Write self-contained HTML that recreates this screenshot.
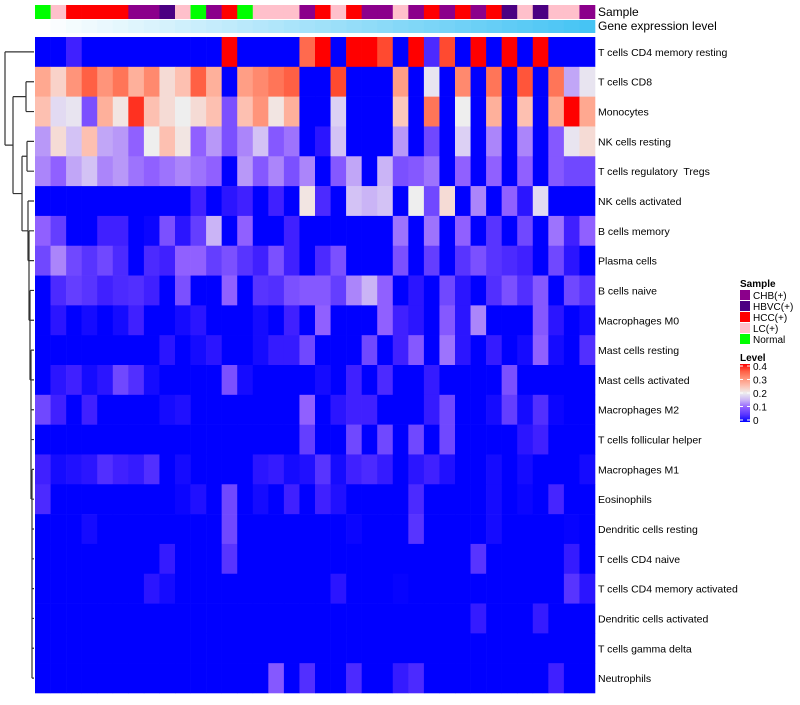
<!DOCTYPE html>
<html><head><meta charset="utf-8"><style>
body{margin:0;background:#fff;width:800px;height:700px;overflow:hidden;font-family:"Liberation Sans",sans-serif}
svg text{white-space:pre}
</style></head><body>
<svg id="chart" width="800" height="700" xmlns="http://www.w3.org/2000/svg" font-family="Liberation Sans, sans-serif"></svg>
<script>
const rowLabels=["T cells CD4 memory resting","T cells CD8","Monocytes","NK cells resting","T cells regulatory  Tregs","NK cells activated","B cells memory","Plasma cells","B cells naive","Macrophages M0","Mast cells resting","Mast cells activated","Macrophages M2","T cells follicular helper","Macrophages M1","Eosinophils","Dendritic cells resting","T cells CD4 naive","T cells CD4 memory activated","Dendritic cells activated","T cells gamma delta","Neutrophils"];
const sampleGroups=["Normal","LC(+)","HCC(+)","HCC(+)","HCC(+)","HCC(+)","CHB(+)","CHB(+)","HBVC(+)","LC(+)","Normal","CHB(+)","HCC(+)","Normal","LC(+)","LC(+)","LC(+)","CHB(+)","HCC(+)","LC(+)","HCC(+)","CHB(+)","CHB(+)","LC(+)","CHB(+)","HCC(+)","CHB(+)","HCC(+)","CHB(+)","HCC(+)","HBVC(+)","LC(+)","HBVC(+)","LC(+)","LC(+)","CHB(+)"];
const legendGroups=["CHB(+)","HBVC(+)","HCC(+)","LC(+)","Normal"];
const levelTicks=[0,0.1,0.2,0.3,0.4];
const v0=[0,0,0.03,0,0,0,0,0,0,0,0,0,0.4,0,0,0,0,0.34,0.4,0,0.4,0.4,0.37,0,0.4,0.04,0.37,0,0.4,0,0.4,0,0.4,0,0,0];
const v1=[0.28,0.23,0.3,0.35,0.3,0.33,0.27,0.31,0.22,0.25,0.35,0.27,0,0.29,0.31,0.33,0.35,0,0,0.37,0,0,0,0.29,0,0.19,0,0.31,0,0.33,0,0.36,0,0.33,0.14,0.19];
const v2=[0.25,0.18,0.19,0.08,0.27,0.21,0.38,0.25,0.22,0.2,0.22,0.25,0.08,0.25,0.3,0.21,0.27,0,0,0.17,0,0,0,0.24,0,0.33,0,0.2,0,0.27,0,0.25,0,0.28,0.4,0.28];
const v3=[0.13,0.22,0.16,0.25,0.14,0.13,0.1,0.2,0.25,0.21,0.1,0.13,0.08,0.12,0.16,0.09,0.11,0,0.02,0.16,0,0,0,0.13,0,0.07,0,0.17,0,0.12,0,0.12,0,0.09,0.19,0.22];
const v4=[0.12,0.1,0.14,0.16,0.12,0.13,0.11,0.1,0.11,0.12,0.11,0.1,0,0.13,0.09,0.12,0.08,0.12,0,0.09,0.14,0,0.15,0.08,0.09,0.11,0,0.1,0,0.1,0,0.1,0,0.09,0.07,0.07];
const v5=[0,0,0,0,0,0,0,0,0,0,0.03,0,0.02,0.03,0,0.03,0,0.21,0.04,0,0.16,0.15,0.16,0,0.2,0.07,0.22,0,0.12,0,0.1,0.02,0.18,0,0,0];
const v6=[0.1,0.06,0,0,0.03,0.03,0,0.005,0.08,0.02,0.06,0.15,0,0.1,0,0,0.03,0,0,0,0,0,0,0.11,0,0.11,0,0.1,0,0.05,0,0.07,0,0.11,0.03,0.1];
const v7=[0.07,0.12,0.07,0.05,0.07,0.04,0,0.04,0.03,0.1,0.1,0.06,0.08,0.05,0.03,0.08,0.03,0,0.04,0.08,0,0,0,0.08,0,0.06,0,0.05,0.08,0.05,0.04,0.03,0,0.07,0.02,0];
const v8=[0,0.04,0.06,0.05,0.03,0.04,0.045,0.03,0,0.08,0,0,0.1,0,0.05,0.045,0.08,0.09,0.09,0.06,0.12,0.15,0.1,0,0.02,0,0.07,0.02,0,0.045,0.08,0.045,0.09,0,0.07,0.05];
const v9=[0,0.02,0,0.01,0,0.01,0.03,0,0,0.01,0.02,0,0,0,0.01,0,0.03,0,0.1,0,0,0,0.1,0.03,0.02,0,0.09,0.02,0.12,0,0,0,0.09,0.02,0,0.01];
const v10=[0,0,0,0,0,0,0,0,0.02,0,0.01,0.02,0,0,0.01,0.025,0.025,0.07,0,0,0,0.07,0,0.03,0.09,0,0.11,0.02,0,0.025,0,0.01,0.1,0.01,0,0.045];
const v11=[0,0.02,0.03,0.01,0.02,0.07,0.045,0.01,0,0,0,0,0.08,0.01,0,0,0,0,0.01,0,0.03,0,0.04,0,0,0.025,0,0,0,0,0.08,0,0,0,0,0];
const v12=[0.07,0.03,0,0.03,0,0,0,0,0.01,0.015,0,0,0,0,0,0,0,0.1,0,0.02,0.03,0.03,0,0,0,0.025,0.07,0,0,0.01,0.06,0.01,0.045,0.005,0,0];
const v13=[0,0,0,0,0,0,0,0,0,0,0,0,0,0,0,0,0,0.06,0,0,0.07,0,0.07,0,0.07,0,0.07,0,0,0,0,0.02,0.03,0,0,0];
const v14=[0.03,0.01,0.015,0.02,0.045,0.03,0.025,0.045,0,0.01,0,0,0,0,0.02,0.025,0.01,0.015,0.05,0.01,0.03,0.04,0.025,0,0.02,0.03,0.015,0,0,0.01,0,0.01,0,0,0,0.01];
const v15=[0.04,0,0,0,0,0,0,0,0,0.005,0.015,0,0.07,0,0.01,0,0.03,0,0.03,0.015,0,0,0,0,0.04,0,0,0,0,0.01,0,0.005,0,0.035,0,0];
const v16=[0,0,0,0.01,0,0,0,0,0,0,0,0,0.07,0,0,0,0,0,0,0,0.005,0,0,0,0.05,0,0,0,0,0.01,0,0,0,0,0.003,0];
const v17=[0,0,0,0,0,0,0,0,0.025,0,0,0,0.05,0,0,0,0,0,0,0,0,0,0,0,0,0,0,0,0.05,0,0,0,0,0,0.025,0];
const v18=[0,0,0,0,0,0,0,0.02,0.01,0,0,0,0,0,0,0,0,0,0,0.02,0,0,0,0.003,0,0,0,0,0,0,0,0,0,0,0.05,0.02];
const v19=[0,0,0,0,0,0,0,0,0,0,0,0,0,0,0,0,0,0,0,0,0,0,0,0,0,0,0,0,0.025,0,0,0,0.025,0,0,0];
const v20=[0,0,0,0,0,0,0,0,0,0,0,0,0,0,0,0,0,0,0,0,0,0,0,0,0,0,0,0,0,0,0,0,0,0,0,0];
const v21=[0,0,0,0,0,0,0,0,0,0,0,0,0,0,0,0.09,0,0.045,0,0,0.04,0,0,0.025,0.04,0,0,0,0,0,0,0,0,0.03,0,0];
const values=[v0,v1,v2,v3,v4,v5,v6,v7,v8,v9,v10,v11,v12,v13,v14,v15,v16,v17,v18,v19,v20,v21];

const NS="http://www.w3.org/2000/svg";
const svg=document.getElementById('chart');
function mk(tag,attrs,parent){const e=document.createElementNS(NS,tag);for(const k in attrs)e.setAttribute(k,attrs[k]);(parent||svg).appendChild(e);return e;}
const X0=35,X1=595,Y0=37,Y1=693;
const nCol=values[0].length,nRow=values.length;
const cw=(X1-X0)/nCol,rh=(Y1-Y0)/nRow;
const xScale=i=>X0+i*cw;
const yScale=r=>Y0+r*rh;
const groupColor={"CHB(+)":"#8B008B","HBVC(+)":"#4B0082","HCC(+)":"#FF0000","LC(+)":"#FFC0CB","Normal":"#00FF00"};
const stops=[[0,[0,0,255]],[0.03,[64,32,255]],[0.07,[112,72,255]],[0.1,[144,96,255]],[0.13,[184,152,248]],[0.17,[220,208,244]],[0.2,[238,238,238]],[0.24,[252,200,188]],[0.28,[255,168,144]],[0.33,[255,117,88]],[0.37,[255,74,48]],[0.4,[255,0,0]]];
function colorOf(v){v=Math.max(0,Math.min(0.4,v));for(let i=1;i<stops.length;i++){if(v<=stops[i][0]){const a=stops[i-1],b=stops[i];const t=(v-a[0])/(b[0]-a[0]);const c=a[1].map((x,k)=>Math.round(x+(b[1][k]-x)*t));return `rgb(${c[0]},${c[1]},${c[2]})`;}}return 'rgb(255,0,0)';}

const gS=mk('g',{});


sampleGroups.forEach((g,i)=>{const r=mk('rect',{x:xScale(i),y:5,width:cw+0.3,height:14,fill:groupColor[g]},gS);

});
const gG=mk('g',{});


for(let i=0;i<nCol;i++){const t=i/(nCol-1);const c=[255+(70-255)*t,255+(196-255)*t,255+(244-255)*t].map(Math.round);
const r=mk('rect',{x:xScale(i),y:20,width:cw+0.3,height:13,fill:`rgb(${c})`},gG);

}
const t1=mk('text',{x:598,y:16,'font-size':12,fill:'#000'});t1.textContent='Sample';


const t2=mk('text',{x:598,y:30,'font-size':12,fill:'#000'});t2.textContent='Gene expression level';



const gH=mk('g',{});


values.forEach((row,r)=>row.forEach((v,c)=>{const e=mk('rect',{x:xScale(c),y:yScale(r),width:cw+0.3,height:rh+0.3,fill:colorOf(v)},gH);

}));
rowLabels.forEach((l,r)=>{const e=mk('text',{x:598,y:yScale(r)+rh/2+4,'font-size':10.5,fill:'#000','xml:space':'preserve'});e.textContent=l;

});

const yc=r=>yScale(r)+rh/2;
const d=[];
function seg(x1,y1,x2,y2){d.push(`M${x1},${y1}L${x2},${y2}`);}
function node(x,ya,xa,yb,xb){seg(xa,ya,x,ya);seg(x,ya,x,yb);seg(x,yb,xb,yb);}
node(26,yc(1),34,yc(2),34);
node(27,yc(3),34,yc(4),34);
const chain=[[30,5],[31,6],[31,7],[32,8],[32,9],[33,10],[33,11],[33,12],[33,13],[34,14],[34,15],[34,16],[34,17],[34,18],[34,19],[34,20]];
let prevY=yc(21),prevX=34;
for(let i=chain.length-1;i>=0;i--){const [x,r]=chain[i];node(x-2,yc(r),34,prevY,prevX);prevY=(yc(r)+prevY)/2;prevX=x-2;}
node(22,yc(3.5),27,prevY,prevX);
const mid22=(yc(3.5)+prevY)/2;
node(13,yc(1.5),26,mid22,22);
node(5,yc(0),34,(yc(1.5)+mid22)/2,13);
const dp=mk('path',{d:d.join(''),stroke:'#333',fill:'none','stroke-width':1.2});



const gL=mk('g',{});


const lt=mk('text',{x:740,y:287,'font-size':10,'font-weight':'bold'},gL);lt.textContent='Sample';


legendGroups.forEach((g,i)=>{const y=290+i*11;
const s=mk('rect',{x:740,y:y,width:10,height:10,fill:groupColor[g]},gL);


const t=mk('text',{x:753,y:y+9,'font-size':10},gL);t.textContent=g;

});
const gV=mk('g',{});


const vt=mk('text',{x:740,y:361,'font-size':10,'font-weight':'bold'},gV);vt.textContent='Level';


const defs=mk('defs',{});const lg=mk('linearGradient',{id:'lvl',x1:0,y1:1,x2:0,y2:0},defs);
for(let k=0;k<=8;k++){mk('stop',{offset:k/8,'stop-color':colorOf(0.4*k/8)},lg);}
const LB0=420,LB1=366;
const lb=mk('rect',{x:740,y:LB1-2,width:10,height:LB0-LB1+4,fill:'url(#lvl)'},gV);


levelTicks.forEach(v=>{const y=LB0+(LB1-LB0)*v/0.4;
mk('line',{x1:740,x2:743,y1:y,y2:y,stroke:'#fff'},gV);mk('line',{x1:747,x2:750,y1:y,y2:y,stroke:'#fff'},gV);
const t=mk('text',{x:753,y:y+4,'font-size':10},gV);t.textContent=String(v);

});
</script>
</body></html>
